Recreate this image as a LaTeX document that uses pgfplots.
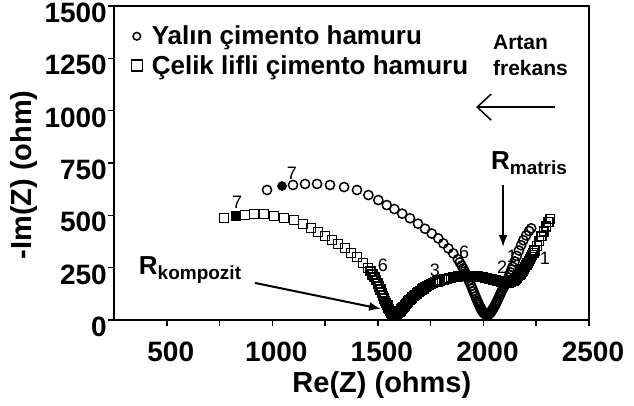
\documentclass[border=0pt]{standalone}
\usepackage{fontspec}
\setmainfont{Liberation Sans}
\usepackage{pgfplots}
\pgfplotsset{compat=1.18}
\usetikzlibrary{arrows.meta}
\pgfplotstableread{
x y
771 487
871 502
913 507
961 507
1008 497
1055 487
1103 478
1145 459
1183 440
1216 420
1249 401
1283 382
1311 363
1344 344
1372 320
1401 301
1429 272
1453 248
1465 233
1475 218
1484 204
1492 190
1499 175
1506 160
1513 145
1519 130
1525 116
1530 103
1535 91
1540 80
1545 70
1549 60
1553 51
1557 44
1561 38
1564 33
1568 29
1571 27
1575 25
1578 25
1582 25
1585 26
1589 28
1592 30
1596 33
1600 37
1604 41
1608 46
1612 51
1617 57
1622 63
1627 69
1632 75
1638 82
1644 88
1650 95
1656 101
1663 108
1670 114
1677 121
1684 127
1692 134
1700 140
1708 146
1716 151
1725 157
1734 162
1743 167
1752 172
1762 176
1772 180
1782 184
1792 188
1803 191
1814 194
1825 197
1836 200
1847 202
1858 204
1870 206
1881 208
1893 209
1905 210
1916 210
1928 210
1939 210
1950 210
1962 209
1973 208
1985 206
1996 204
2007 202
2018 200
2028 197
2038 195
2048 192
2057 190
2066 187
2074 185
2082 182
2089 180
2096 179
2103 178
2109 177
2115 177
2121 178
2127 180
2132 182
2138 185
2143 189
2149 193
2154 198
2160 203
2165 209
2171 215
2176 222
2182 229
2187 237
2193 245
2198 254
2204 263
2209 272
2215 281
2220 291
2226 301
2231 311
2237 321
2242 332
2253 354
2264 377
2275 400
2286 423
2297 446
2308 468
2316 482
}\celik
\pgfplotstableread{
x y
975 621
1098 645
1155 650
1212 650
1273 645
1340 635
1401 621
1455 597
1502 573
1542 549
1578 530
1615 508
1652 486
1690 460
1723 436
1755 413
1786 390
1810 366
1834 342
1857 318
1879 290
1888 275
1897 260
1904 246
1911 232
1918 218
1924 204
1930 190
1936 176
1942 163
1947 150
1952 137
1957 125
1962 113
1966 102
1971 92
1975 82
1979 73
1983 64
1987 56
1991 49
1995 43
1998 38
2002 34
2005 30
2009 28
2012 26
2016 25
2019 25
2023 26
2026 28
2030 31
2033 35
2037 40
2040 45
2044 51
2048 58
2053 66
2057 75
2062 84
2066 94
2071 104
2076 115
2081 126
2086 137
2092 148
2097 158
2103 169
2108 180
2113 191
2118 203
2123 215
2128 228
2133 241
2138 254
2148 280
2158 306
2168 332
2178 357
2189 381
2202 404
2216 425
2226 438
}\yalin
\begin{document}
\begin{tikzpicture}
\begin{axis}[
  name=ax,
  scale only axis, width=475pt, height=314pt,
  xmin=250, xmax=2500, ymin=0, ymax=1500,
  xtick={500,1000,...,2500}, minor xtick={750,1250,1750,2250},
  ytick={0,250,...,1500},
  xtick pos=lower, ytick pos=left,
  tick align=outside, major tick length=6pt, minor tick length=6pt,
  every tick/.style={black, line width=1.5pt},
  minor tick style={black, line width=1.5pt},
  axis line style={line width=2.5pt},
  /pgf/number format/assume math mode=true,
  /pgf/number format/1000 sep={},
  ticklabel style={font=\bfseries\fontsize{28}{28}\selectfont, inner sep=0pt},
  yticklabel style={yshift=-7pt, xshift=-1pt},
  xticklabel style={yshift=-16pt, xshift=4pt},
  xlabel={Re(Z) (ohms)}, ylabel={-Im(Z) (ohm)},
  label style={font=\bfseries\fontsize{29}{29}\selectfont},
  xlabel style={at={(axis description cs:0.564,-0.207)}, anchor=center},
  ylabel style={at={(axis description cs:-0.189,0.462)}, anchor=center},
  clip=false,
  legend style={at={(rel axis cs:0.036,0.943)}, anchor=north west, draw=none, fill=none,
    font=\bfseries\fontsize{26}{26}\selectfont, row sep=5pt, inner sep=0pt,
    nodes={inner sep=2pt}},
  legend cell align=left,
  legend image code/.code={\draw[#1] plot coordinates {(0pt,0pt)}; \path[draw=none,fill=none] (-5pt,0pt) -- (13pt,0pt);},
]
\addplot[only marks, mark=o, mark size=4.6pt, mark options={line width=1.5pt, black}, black,
  legend image post style={mark size=3.8pt}] table[x=x,y=y]{\yalin};
\addlegendentry{Yalın çimento hamuru}
\addplot[only marks, mark=square, mark size=4.4pt, mark options={line width=1.5pt, black, fill=white}, black,
  legend image post style={mark size=5.5pt}] table[x=x,y=y]{\celik};
\addlegendentry{Çelik lifli çimento hamuru}
\addplot[only marks, mark=*, mark size=4.6pt, black, forget plot] coordinates {(1046,640)};
\addplot[only marks, mark=square*, mark size=4.4pt, black, forget plot] coordinates {(828,497)};
% decade labels
\begin{scope}[every node/.style={font=\fontsize{18}{18}\selectfont, inner sep=0pt}]
\node at (axis cs:833,564) {7};
\node at (axis cs:1093,702) {7};
\node at (axis cs:1524,263) {6};
\node at (axis cs:1908,325) {6};
\node at (axis cs:1770,239) {3};
\node at (axis cs:2088,253) {2};
\node at (axis cs:2135,306) {1};
\node at (axis cs:2291,296) {1};
\end{scope}
\node[font=\bfseries\fontsize{26}{26}\selectfont, inner sep=0pt] at (axis cs:2216,750)
  {R\raisebox{-5pt}{\fontsize{19}{19}\selectfont matris}};
\node[font=\bfseries\fontsize{26}{26}\selectfont, inner sep=0pt] at (axis cs:610,239)
  {R\raisebox{-5pt}{\fontsize{19}{19}\selectfont kompozit}};
\draw[line width=2pt, -{Latex[length=12pt,width=9pt]}] (axis cs:2093,645) -- (axis cs:2093,349);
\draw[line width=2pt, -{Latex[length=12pt,width=9pt]}] (axis cs:918,177) -- (axis cs:1515,53);
\draw[line width=1.5pt, -{Straight Barb[length=14pt,width=26pt]}] (axis cs:2339,1017) -- (axis cs:1965,1017);
\node[font=\bfseries\fontsize{21}{26}\selectfont, align=left, anchor=west, inner sep=0pt]
  at (axis cs:2045,1266) {Artan\\frekans};
\end{axis}
\pgfresetboundingbox
\path[use as bounding box] ([xshift=-114pt,yshift=-86pt]ax.south west) rectangle ([xshift=45pt,yshift=6pt]ax.north east);
\end{tikzpicture}
\end{document}
